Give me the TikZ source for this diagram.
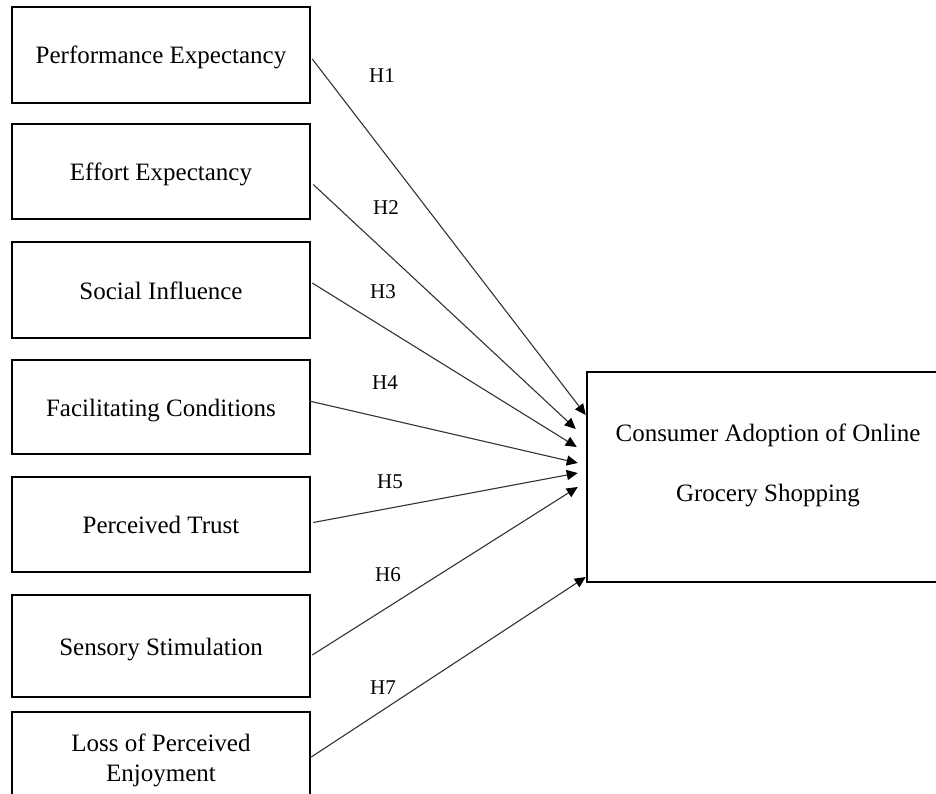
\documentclass[tikz,border=0pt]{standalone}
\usepackage{fontspec}
\setmainfont{Liberation Serif}
\usetikzlibrary{arrows.meta,calc}
\begin{document}
\begin{tikzpicture}[x=1pt,y=-1pt,
  factor/.style={draw, line width=2.5pt, minimum width=298pt, align=center,
    inner sep=0pt, font=\fontsize{25}{30}\selectfont},
  oneline/.style={text height=22pt, text depth=4pt},
  outcome/.style={draw, line width=2.5pt, inner sep=0pt},
  link/.style={line width=1.1pt, draw=black!80,
    -{Triangle[length=11pt,width=10pt,fill=black,color=black]}},
  hyp/.style={inner sep=0pt, font=\fontsize{21}{25}\selectfont}]
\useasboundingbox (0,0) rectangle (936,794);

% predictor constructs
\node[factor, oneline, minimum height=96pt]  (pe)  at (161,55)    {Performance Expectancy};
\node[factor, oneline, minimum height=95pt]  (ee)  at (161,171.5) {Effort Expectancy};
\node[factor, oneline, minimum height=96pt]  (si)  at (161,290)   {Social Influence};
\node[factor, oneline, minimum height=94pt]  (fc)  at (161,407)   {Facilitating Conditions};
\node[factor, oneline, minimum height=95pt]  (pt)  at (161,524.5) {Perceived Trust};
\node[factor, oneline, minimum height=102pt] (ss)  at (161,646)   {Sensory Stimulation};
\node[factor, minimum height=96pt] (lpe) at (161,760)
  {Loss of Perceived\\Enjoyment};

% outcome construct (runs past the right edge)
\node[outcome, minimum width=373pt, minimum height=210pt] (ca) at (773.5,477) {};
\node[align=center, inner sep=0pt, font=\fontsize{25}{60}\selectfont] (catext) at (768,465)
  {Consumer Adoption of Online\\Grocery Shopping};

% hypothesised paths
\draw[link] ($(pe.east)+(1,4)$)   -- ($(ca.west)+(0,-62)$);
\draw[link] ($(ee.east)+(2,13)$)  -- ($(ca.west)+(-10,-48)$);
\draw[link] ($(si.east)+(1,-7)$)  -- ($(ca.west)+(-9,-30)$);
\draw[link] ($(fc.east)+(-2,-6)$) -- ($(ca.west)+(-8,-14)$);
\draw[link] ($(pt.east)+(2,-2)$)  -- ($(ca.west)+(-8,-4)$);
\draw[link] ($(ss.east)+(1,9)$)   -- ($(ca.west)+(-8,10)$);
\draw[link] ($(lpe.east)+(0,-3)$) -- ($(ca.west)+(0,100)$);

% hypothesis labels
\node[hyp] (h1) at (382,76)  {H1};
\node[hyp] (h2) at (386,208) {H2};
\node[hyp] (h3) at (383,292) {H3};
\node[hyp] (h4) at (385,383) {H4};
\node[hyp] (h5) at (390,482) {H5};
\node[hyp] (h6) at (388,575) {H6};
\node[hyp] (h7) at (383,688) {H7};
\end{tikzpicture}
\end{document}
